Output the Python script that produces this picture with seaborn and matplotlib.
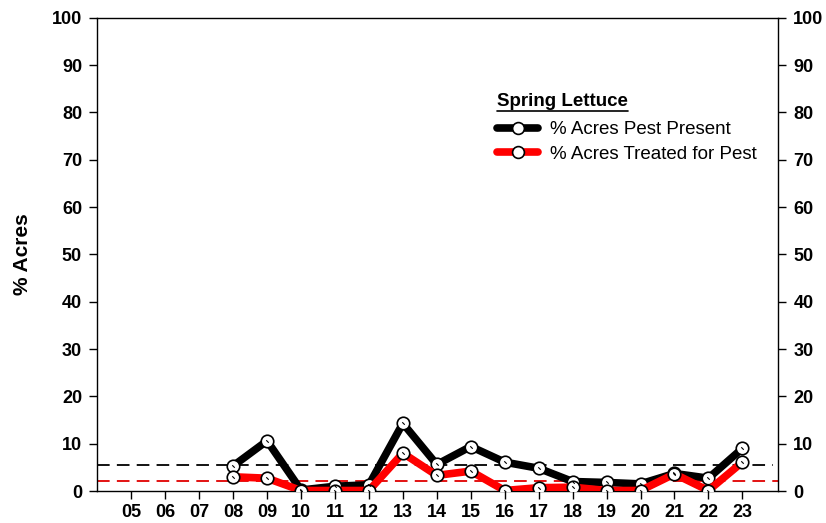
import matplotlib
matplotlib.use("Agg")
import matplotlib.pyplot as plt
import seaborn as sns
import pandas as pd
import numpy as np
from matplotlib.lines import Line2D

# Survey years (two-digit labels) and the seasonal percentages
years = ["05", "06", "07", "08", "09", "10", "11", "12", "13", "14",
         "15", "16", "17", "18", "19", "20", "21", "22", "23"]
data_years = ["08", "09", "10", "11", "12", "13", "14", "15",
              "16", "17", "18", "19", "20", "21", "22", "23"]
pest_present = [5.3, 10.6, 0.2, 1.0, 1.3, 14.3, 5.6, 9.4,
                6.1, 4.8, 2.0, 1.8, 1.5, 3.7, 2.7, 9.0]
treated = [3.0, 2.7, 0.1, 0.1, 0.1, 8.0, 3.3, 4.2,
           0.1, 0.7, 0.8, 0.1, 0.1, 3.6, 0.1, 6.1]
avg_present = 5.5
avg_treated = 2.1
yticks = list(range(0, 101, 10))

sns.set_style("white")
plt.rcParams["font.family"] = ["Liberation Sans", "DejaVu Sans"]
plt.rcParams["text.color"] = "black"
plt.rcParams["axes.labelcolor"] = "black"
plt.rcParams["xtick.color"] = "black"
plt.rcParams["ytick.color"] = "black"

pos = {y: i for i, y in enumerate(years)}
df = pd.DataFrame({
    "x": [pos[y] for y in data_years] * 2,
    "value": pest_present + treated,
    "series": ["% Acres Pest Present"] * len(data_years)
              + ["% Acres Treated for Pest"] * len(data_years),
})

fig = plt.figure(figsize=(8.26, 5.23), dpi=100)
ax = fig.add_axes([97.3 / 826, 1 - 491 / 523, (778 - 97.3) / 826, (491 - 17.7) / 523])

# Long-run average reference lines
ax.plot([-1, 18.9], [avg_present, avg_present], color="black", lw=1.3,
        dashes=(7, 4), zorder=1)
ax.plot([-1, 19.05], [avg_treated, avg_treated], color="#e00000", lw=1.3,
        dashes=(7, 4), zorder=1)

palette = {"% Acres Pest Present": "black", "% Acres Treated for Pest": "#ff0000"}
sns.lineplot(data=df, x="x", y="value", hue="series", palette=palette,
             hue_order=["% Acres Pest Present", "% Acres Treated for Pest"],
             lw=5.5, marker="o", markersize=9, markerfacecolor="white",
             markeredgecolor="black", markeredgewidth=1.2, legend=False,
             ax=ax, zorder=3)
# small centre mark inside each circle
for vals in (pest_present, treated):
    ax.plot([pos[y] for y in data_years], vals, ls="none", marker=(2, 0, 45),
            markersize=2.5, color="black", mew=0.8, zorder=4)

ax.set_xlim(-1, 19.05)
ax.set_ylim(0, 100)
ax.set_xticks(range(len(years)))
ax.set_xticklabels(years)
ax.set_yticks(yticks)
ax.set_xlabel("")
ax.set_ylabel("% Acres", fontsize=15, fontweight="bold", labelpad=14, color="black")

for s in ax.spines.values():
    s.set_visible(True)
    s.set_color("black")
    s.set_linewidth(1.0)

ax.tick_params(axis="both", which="both", direction="out", length=6, width=1,
               colors="black", labelsize=13)
ax.tick_params(axis="y", left=True, right=True, labelleft=True, labelright=True,
               pad=5)
ax.tick_params(axis="x", bottom=True, pad=3.5)
for lab in ax.get_xticklabels() + ax.get_yticklabels():
    lab.set_fontweight("bold")
for t in ax.yaxis.get_major_ticks():
    t.label2.set_fontweight("bold")
    t.label2.set_fontsize(13)

# Legend
handles = [
    Line2D([], [], color="black", lw=5.5, marker="o", markersize=8.5,
           markerfacecolor="white", markeredgecolor="black", markeredgewidth=1.2),
    Line2D([], [], color="#ff0000", lw=5.5, marker="o", markersize=8.5,
           markerfacecolor="white", markeredgecolor="black", markeredgewidth=1.2),
]
leg = ax.legend(handles, ["% Acres Pest Present", "% Acres Treated for Pest"],
                loc="upper left", bbox_to_anchor=(497 / 826, 1 - 121 / 523),
                bbox_transform=fig.transFigure, frameon=False, fontsize=13.5,
                handlelength=2.2, handletextpad=0.6, labelspacing=0.4,
                borderpad=0, borderaxespad=0)

title = fig.text(497 / 826, 1 - 101 / 523, "Spring Lettuce", fontsize=13.5,
                 fontweight="bold", ha="left", va="center")
fig.canvas.draw()
bb = title.get_window_extent().transformed(fig.transFigure.inverted())
fig.add_artist(Line2D([bb.x0, bb.x1], [bb.y0 - 0.002, bb.y0 - 0.002],
                      transform=fig.transFigure, color="black", lw=1.2))

fig.savefig("out.png", dpi=100)
